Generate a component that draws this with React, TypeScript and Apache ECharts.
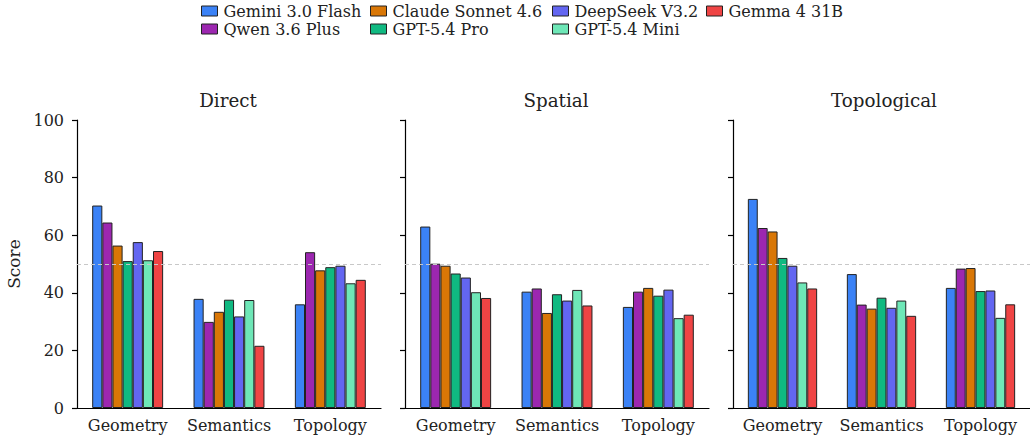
import React, { useEffect, useRef } from "react";
import * as echarts from "echarts";

const models = [
  "Gemini 3.0 Flash",
  "Qwen 3.6 Plus",
  "Claude Sonnet 4.6",
  "GPT-5.4 Pro",
  "DeepSeek V3.2",
  "GPT-5.4 Mini",
  "Gemma 4 31B",
];
const colors = ["#3b82f6", "#9c27b0", "#d97706", "#10b981", "#6366f1", "#6ee7b7", "#ef4444"];
const categories = ["Geometry", "Semantics", "Topology"];
const panels = ["Direct", "Spatial", "Topological"];
const yTicks = [0, 20, 40, 60, 80, 100];
const refLine = 50;

// rows: models (same order as `models`), columns: categories
const directScores = [
  [70.3, 37.9, 36.0],
  [64.4, 29.9, 54.1],
  [56.4, 33.4, 47.8],
  [51.0, 37.6, 48.9],
  [57.6, 31.8, 49.4],
  [51.3, 37.5, 43.3],
  [54.5, 21.6, 44.5],
];
const spatialScores = [
  [63.0, 40.4, 35.1],
  [50.1, 41.5, 40.4],
  [49.4, 33.0, 41.7],
  [46.7, 39.5, 39.0],
  [45.3, 37.3, 41.1],
  [40.2, 41.0, 31.2],
  [38.2, 35.6, 32.4],
];
const topologicalScores = [
  [72.6, 46.5, 41.7],
  [62.5, 35.9, 48.4],
  [61.3, 34.5, 48.6],
  [52.1, 38.3, 40.6],
  [49.4, 34.8, 40.8],
  [43.6, 37.3, 31.3],
  [41.5, 32.0, 36.0],
];
const allScores = [directScores, spatialScores, topologicalScores];

const FONT = "'DejaVu Serif', serif";

export default function App() {
  const ref = useRef<HTMLDivElement>(null);
  useEffect(() => {
    if (!ref.current) return;
    const chart = echarts.init(ref.current, null, { renderer: "svg" });
    const gridLefts = [77, 405, 733];
    const gridWidth = 304;
    const grids = gridLefts.map((l) => ({ left: l, width: gridWidth, top: 120, height: 288 }));
    const xAxes = panels.map((_, i) => ({
      type: "category",
      gridIndex: i,
      data: categories,
      axisLine: { lineStyle: { color: "#000", width: 1.2 } },
      axisTick: { alignWithLabel: true, length: 5, lineStyle: { color: "#000", width: 1.2 } },
      axisLabel: { interval: 0, color: "#222", fontFamily: FONT, fontSize: 16, margin: 9 },
    }));
    const yAxes = panels.map((_, i) => ({
      type: "value",
      gridIndex: i,
      min: yTicks[0],
      max: yTicks[yTicks.length - 1],
      interval: yTicks[1] - yTicks[0],
      name: i === 0 ? "Score" : "",
      nameLocation: "middle",
      nameGap: 55,
      nameTextStyle: { color: "#222", fontFamily: FONT, fontSize: 17 },
      splitLine: { show: false },
      axisLine: { show: true, lineStyle: { color: "#000", width: 1.2 } },
      axisTick: { show: true, length: 5, lineStyle: { color: "#000", width: 1.2 } },
      axisLabel: { show: i === 0, color: "#222", fontFamily: FONT, fontSize: 16, margin: 13 },
    }));
    const series: any[] = [];
    panels.forEach((_, p) => {
      models.forEach((m, k) => {
        series.push({
          type: "bar",
          name: m,
          xAxisIndex: p,
          yAxisIndex: p,
          data: allScores[p][k],
          barGap: "0%",
          barCategoryGap: "30%",
          itemStyle: { color: colors[k], borderColor: "#222", borderWidth: 1 },
          markLine:
            k === 0
              ? {
                  silent: true,
                  symbol: "none",
                  label: { show: false },
                  lineStyle: { color: "#c8c8c8", type: [4, 3], width: 1 },
                  data: [{ yAxis: refLine }],
                }
              : undefined,
        });
      });
    });
    const legendCols = [
      { left: 201, data: [models[0], models[1]] },
      { left: 370, data: [models[2], models[3]] },
      { left: 552, data: [models[4], models[5]] },
      { left: 706, data: [models[6]] },
    ];
    const legends = legendCols.map((c) => ({
      left: c.left,
      top: 3,
      padding: 0,
      orient: "vertical",
      itemGap: 2,
      itemWidth: 16,
      itemHeight: 10,
      icon: "rect",
      itemStyle: { borderColor: "#222", borderWidth: 1 },
      textStyle: { color: "#222", fontFamily: FONT, fontSize: 16, padding: [0, 0, 0, 1] },
      data: c.data,
    }));
    const titles = panels.map((t, i) => ({
      text: t,
      left: gridLefts[i] + gridWidth / 2 - 1,
      textAlign: "center",
      top: 91,
      padding: 0,
      textStyle: { color: "#222", fontFamily: FONT, fontSize: 18.3, fontWeight: "normal" },
    }));
    chart.setOption({
      animation: false,
      backgroundColor: "#fff",
      title: titles,
      legend: legends,
      grid: grids,
      xAxis: xAxes,
      yAxis: yAxes,
      series,
    });
    return () => chart.dispose();
  }, []);
  return (
    <div
      ref={ref}
      style={{ position: "absolute", left: 0, top: 0, width: 1030, height: 441 }}
    />
  );
}
